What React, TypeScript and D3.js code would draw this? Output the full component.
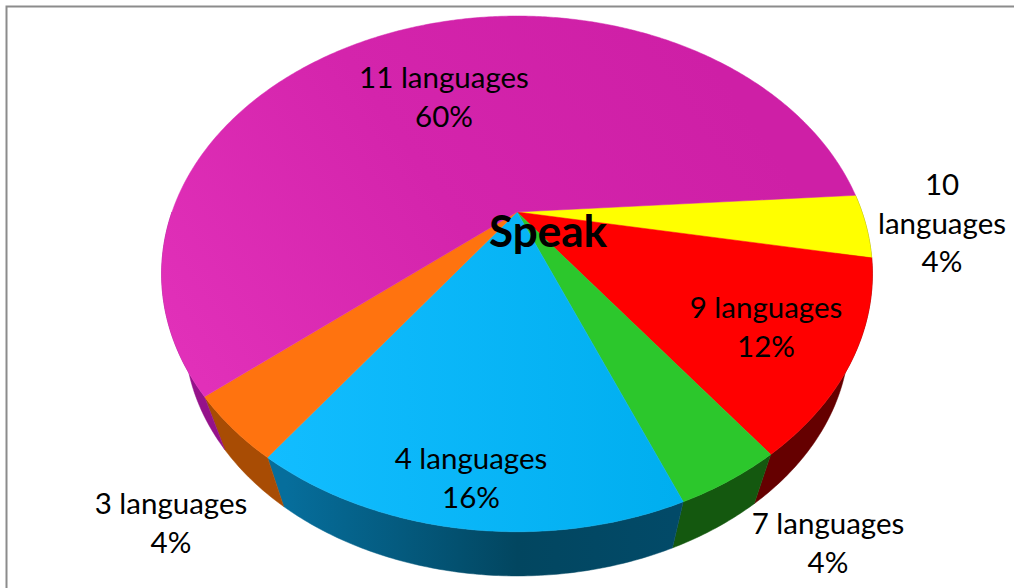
import React from "react";
import * as d3 from "d3";

// Slice data, clockwise from the yellow wedge.
const categories = ["10 languages", "9 languages", "7 languages", "4 languages", "3 languages", "11 languages"];
const shares = [4, 12, 4, 16, 4, 60];
const chartTitle = "Speak";

const topColors = ["#ffff00", "#ff0000", "#2cc72c", "url(#blueTop)", "#ff730f", "url(#magentaTop)"];
const wallColors = ["#6b6b00", "#650000", "#14580f", "url(#blueWall)", "#a84c04", "#95128a"];

// Label anchors and line breaks, in the same order as the slices.
const labelLines = [
  ["10", "languages", "4%"],
  ["9 languages", "12%"],
  ["7 languages", "4%"],
  ["4 languages", "16%"],
  ["3 languages", "4%"],
  ["11 languages", "60%"],
];
const labelAnchors: [number, number][] = [
  [942, 195],
  [766, 318],
  [828, 534],
  [471, 469],
  [171, 514],
  [444, 88],
];

const WIDTH = 1014;
const HEIGHT = 588;
const FONT = "Lato, 'Open Sans', sans-serif";
const LINE_GAP = 38.5;

// Perspective projection of the unit disc onto the screen.
const apex = { x: 517, y: 212 };
const tilt = 0.24;
const radiusX = 345;
const radiusY = 243;
const wallScale = 0.935;
const wallDrop = 65;
const startDegrees = 86;

const project = (d3Angle: number) => {
  const theta = d3Angle - Math.PI / 2;
  const u = Math.cos(theta);
  const v = Math.sin(theta);
  const w = 1 - tilt * v;
  return [apex.x + (radiusX * u) / w, apex.y + (radiusY * v) / w] as [number, number];
};

const projectLower = (d3Angle: number) => {
  const [x, y] = project(d3Angle);
  return [apex.x + (x - apex.x) * wallScale, apex.y + wallDrop + (y - apex.y) * wallScale] as [number, number];
};

const path = d3.line().curve(d3.curveLinear);

const sampleAngles = (a0: number, a1: number) => {
  const n = Math.max(2, Math.ceil(Math.abs(a1 - a0) / 0.01));
  const scale = d3.scaleLinear().domain([0, n]).range([a0, a1]);
  return d3.range(n + 1).map((i) => scale(i));
};

export default function App() {
  const startAngle = (startDegrees * Math.PI) / 180;
  const arcs = d3
    .pie<number>()
    .sort(null)
    .startAngle(startAngle)
    .endAngle(startAngle + Math.PI * 2)(shares);

  // Only the near half of the rim shows a wall.
  const visibleEnd = (270 * Math.PI) / 180;

  return (
    <svg
      width={WIDTH}
      height={HEIGHT}
      viewBox={`0 0 ${WIDTH} ${HEIGHT}`}
      style={{ position: "fixed", left: 0, top: 0, background: "#fff" }}
    >
      <defs>
        <linearGradient id="blueTop" gradientUnits="userSpaceOnUse" x1="268" y1="400" x2="683" y2="400">
          <stop offset="0" stopColor="#12bdff" />
          <stop offset="1" stopColor="#00aeef" />
        </linearGradient>
        <linearGradient id="magentaTop" gradientUnits="userSpaceOnUse" x1="200" y1="380" x2="700" y2="40">
          <stop offset="0" stopColor="#e130b9" />
          <stop offset="0.5" stopColor="#d424ac" />
          <stop offset="1" stopColor="#ce1fa6" />
        </linearGradient>
        <linearGradient id="blueWall" gradientUnits="userSpaceOnUse" x1="286" y1="0" x2="672" y2="0">
          <stop offset="0" stopColor="#066e9c" />
          <stop offset="0.6" stopColor="#024660" />
          <stop offset="1" stopColor="#024a68" />
        </linearGradient>
      </defs>

      <rect x={6.5} y={6.5} width={WIDTH} height={HEIGHT} fill="none" stroke="#8c8c8c" strokeWidth={2} />

      <g>
        {arcs.map((a, i) => {
          const end = Math.min(a.endAngle, visibleEnd);
          if (a.startAngle >= visibleEnd) return null;
          const angles = sampleAngles(a.startAngle, end);
          const rim = [...angles.map(project), ...angles.slice().reverse().map(projectLower)];
          return <path key={i} d={path(rim) + "Z"} fill={wallColors[i]} stroke={wallColors[i]} strokeWidth={0.5} />;
        })}
      </g>

      <g>
        {arcs.map((a, i) => {
          const pts = [[apex.x, apex.y] as [number, number], ...sampleAngles(a.startAngle, a.endAngle).map(project)];
          return <path key={i} d={path(pts) + "Z"} fill={topColors[i]} stroke={topColors[i]} strokeWidth={0.5} />;
        })}
      </g>

      <g fontFamily={FONT} fontSize={29.5} fill="#000" textAnchor="middle">
        {categories.map((c, i) => (
          <text key={c} x={labelAnchors[i][0]} y={labelAnchors[i][1]}>
            {labelLines[i].map((line, j) => (
              <tspan key={j} x={labelAnchors[i][0]} y={labelAnchors[i][1] + j * LINE_GAP}>
                {line}
              </tspan>
            ))}
          </text>
        ))}
      </g>

      <text x={548} y={247} fontFamily={FONT} fontSize={44} fontWeight={700} fill="#000" textAnchor="middle">
        {chartTitle}
      </text>
    </svg>
  );
}
